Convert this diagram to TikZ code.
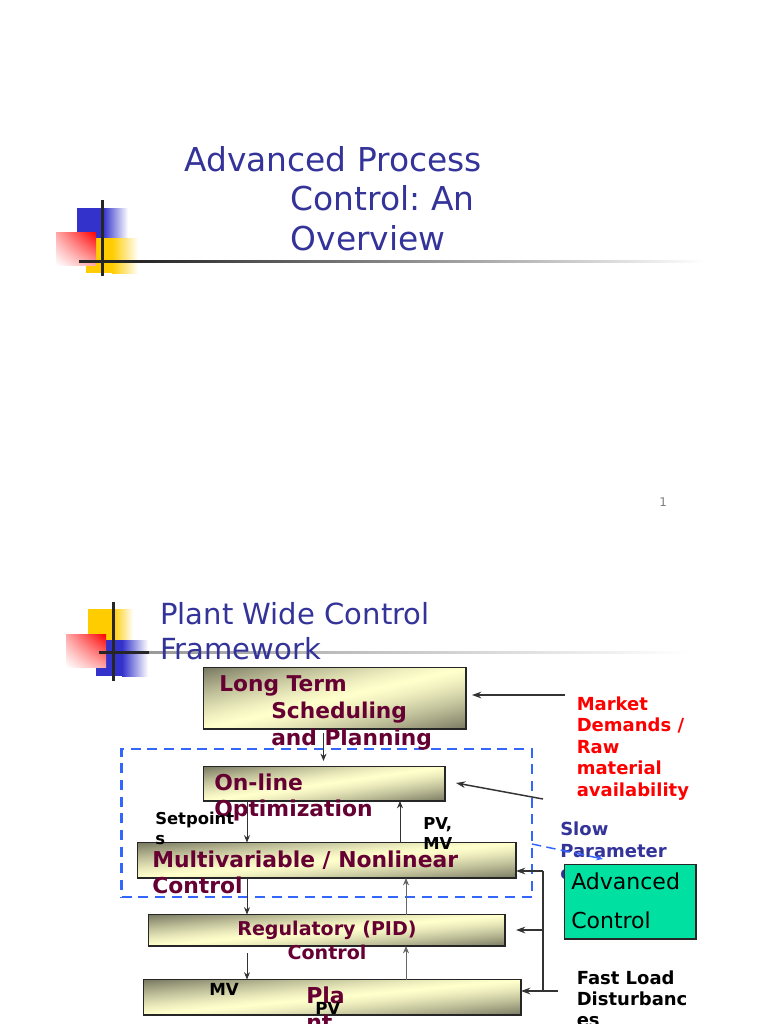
\documentclass[tikz,border=0pt]{standalone}
\usepackage{fontspec}
\setmainfont{DejaVu Sans}
\usetikzlibrary{arrows.meta,shadings}
\definecolor{titleblue}{HTML}{333399}
\definecolor{maroon}{HTML}{660033}
\definecolor{mint}{HTML}{00E0A0}
\definecolor{dashblue}{HTML}{3366FF}
\definecolor{solidblue}{HTML}{3333CC}
\definecolor{gold}{HTML}{FFCC00}
\newcommand{\fs}[2]{\fontsize{#1pt}{#2pt}\selectfont}
\pgfdeclarefunctionalshading{diagbox}{\pgfpointorigin}{\pgfpoint{100bp}{100bp}}{}{
  sub abs 50 div 1.3 exp
  dup .53 mul neg 1 add exch
  dup .53 mul neg 1 add exch
  .42 mul neg .8 add
}
\tikzset{
  x=0.75pt,y=-0.75pt,
  gradbox/.style={draw=black!85,line width=1.2pt,shade,shading=diagbox,shading angle=0,inner sep=0,outer sep=0,anchor=north west},
  redfade/.style={shading=bilinear interpolation,lower left=white,upper right=red,lower right=red!35,upper left=red!35},
  lbl/.style={inner sep=0,anchor=base west,align=left},
  conn/.style={draw=black!80,line width=0.7pt,-{Stealth[length=5.5pt,width=4.5pt]}},
  feed/.style={draw=black!80,line width=1.1pt,-{Stealth[length=7pt,width=5pt]}},
  bus/.style={draw=black!80,line width=1.1pt},
}
\newcommand{\gbox}[5]{\node[gradbox,minimum width=#4*0.75pt,minimum height=#5*0.75pt] (#1) at (#2,#3) {};}
\AtBeginDocument{\frenchspacing}
\begin{document}
\begin{tikzpicture}
\useasboundingbox[fill=white] (0,0) rectangle (768,1024);
% --- top logo
\fill[solidblue] (77,208) rectangle (103,238);
\shade[left color=solidblue,right color=white] (103,208) rectangle (128,238);
\fill[gold] (86,238) rectangle (112,273);
\shade[left color=gold,right color=white] (112,238) rectangle (138,273);
\shade[redfade] (56,232) rectangle (96,265);
\fill[black!85] (79,260.2) rectangle (139,262.8);
\shade[left color=black!85,right color=white] (139,260.2) rectangle (705,262.8);
\fill[black!85] (101,200) rectangle (103.5,276);
% --- second logo
\fill[gold] (88,609) rectangle (113,640);
\shade[left color=gold,right color=white] (113,609) rectangle (133,640);
\fill[solidblue] (96,640) rectangle (122,676);
\shade[left color=solidblue,right color=white] (122,640) rectangle (148,676);
\shade[redfade] (66,634) rectangle (106,667);
\shade[left color=black!40,right color=white] (149,651.3) rectangle (690,653.5);
\fill[black!85] (99,651.3) rectangle (149,653.5);
\fill[black!85] (112,602) rectangle (114.5,681);
% --- titles
\node[lbl,text=titleblue,font=\fs{24.65}{29.6}] (t1) at (184,250) {Advanced Process\\\hspace*{80pt}Control: An\\\hspace*{80pt}Overview};
\node[lbl,text=titleblue,font=\fs{21.8}{26}] (t2) at (160,659) {Plant Wide Control\\Framework};
\node[lbl,text=black!50,font=\fs{9}{11}] (pg) at (659,506) {1};
% --- dashed frame
\node[draw=dashblue,dash pattern=on 7.5pt off 5pt,line width=2pt,inner sep=0,outer sep=0,anchor=north west,minimum width=410.5*0.75pt,minimum height=148*0.75pt] (frame) at (121.5,749) {};
% --- text under the boxes
\node[lbl,text=titleblue,font=\bfseries\fs{13.5}{16.5}] (slow) at (560,879) {Slow\\Parameter\\estimation};
% --- boxes
\gbox{long}{203.5}{667.5}{262.5}{61.5}
\gbox{online}{203.5}{766.5}{241.5}{34.5}
\gbox{multi}{137.5}{842.5}{378.5}{35.5}
\gbox{reg}{148.5}{914.5}{356.5}{31.5}
\gbox{plant}{143.5}{979.5}{377.5}{35.5}
\node[draw=black!85,fill=mint,line width=1.2pt,inner sep=0,outer sep=0,anchor=north west,minimum width=131.5*0.75pt,minimum height=74.5*0.75pt] (adv) at (564.5,864.5) {};
% --- anchors for connector ends
\coordinate (xa) at (247,0);
\coordinate (xb) at (400,0);
\coordinate (xc) at (406,0);
\coordinate (longout) at (323.5,733);
\coordinate (onlinein) at (323.5,761);
\coordinate (regout) at (247,953);
\coordinate (bustop) at (543,871);
\coordinate (busreg) at (543,930);
\coordinate (regin) at (516,930);
\coordinate (busplant) at (543,991);
\coordinate (fastend) at (558,991);
\coordinate (mktstart) at (565,695);
\coordinate (mktend) at (472,695);
\coordinate (optstart) at (543,799);
\coordinate (optend) at (456,783);
\coordinate (dstart) at (532,844);
\coordinate (dend) at (603,859);
% --- connectors
\draw[conn] (longout) -- (onlinein);
\draw[conn] (xa |- online.south) -- (xa |- multi.north);
\draw[conn] (xb |- multi.north) -- (xb |- online.south);
\draw[conn] (xa |- multi.south) -- (xa |- reg.north);
\draw[conn,draw=black!60] (xc |- reg.north) -- (xc |- multi.south);
\draw[conn] (regout) -- (xa |- plant.north);
\draw[conn,draw=black!60] (xc |- plant.north) -- (xc |- reg.south);
\draw[feed] (mktstart) -- (mktend);
\draw[feed] (optstart) -- (optend);
\draw[bus] (bustop) -- (busplant);
\draw[feed] (bustop) -- (multi.east |- bustop);
\draw[feed] (busreg) -- (regin);
\draw[feed,line width=1.5pt] (fastend) -- (plant.east |- busplant);
\draw[dashblue,dash pattern=on 7pt off 4pt,line width=1.1pt,-{Stealth[length=5pt,width=4pt]}] (dstart) -- (dend);
% --- box texts
\node[lbl,text=maroon,font=\bfseries\fs{16.3}{20}] (longt) at (219,745) {Long Term\\\hspace*{39pt}Scheduling\\\hspace*{39pt}and Planning};
\node[lbl,text=maroon,font=\bfseries\fs{16.4}{19.5}] (onlinet) at (214,816) {On-line\\Optimization};
\node[lbl,text=maroon,font=\bfseries\fs{16.4}{20}] (multit) at (152,893.7) {Multivariable / Nonlinear\\Control};
\node[inner sep=0,anchor=base,align=center,text=maroon,font=\bfseries\fs{14.3}{18}] (regt) at (327,959) {Regulatory (PID)\\Control};
\node[lbl,text=maroon,font=\bfseries\fs{16.5}{20}] (plantt) at (306,1030) {Pla\\nt};
\node[lbl,font=\bfseries\fs{12.5}{15}] (mv) at (209,995) {MV};
\node[lbl,font=\bfseries\fs{12.5}{15}] (pv) at (315,1014) {PV};
\node[lbl,font=\bfseries\fs{12.3}{15}] (pvmv) at (423,849) {PV,\\MV};
\node[lbl,font=\bfseries\fs{12.3}{15.5}] (setp) at (155,844.7) {Setpoint\\s};
\node[lbl,text=red,font=\bfseries\fs{13.5}{16.2}] (market) at (576.5,796.4) {Market\\Demands /\\Raw\\material\\availability};
\node[lbl,font=\bfseries\fs{13.5}{15.7}] (fast) at (576.5,1026) {Fast Load\\Disturbanc\\es};
\node[lbl,font=\fs{16.5}{29.3}] (advt) at (571,928.5) {Advanced\\Control};
\end{tikzpicture}
\end{document}
